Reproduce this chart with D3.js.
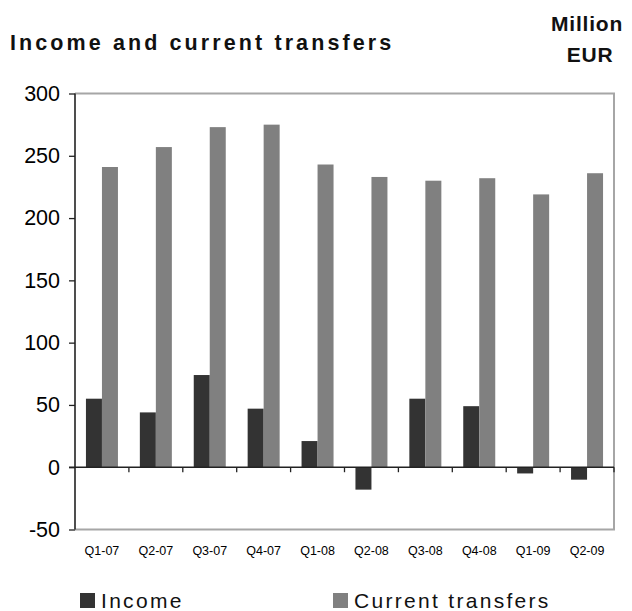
<!DOCTYPE html>
<html>
<head>
<meta charset="utf-8">
<script src="https://cdn.jsdelivr.net/npm/d3@7"></script>
<style>
  body { margin: 0; background: #fff; }
  svg { display: block; }
</style>
</head>
<body>
<svg id="chart" width="632" height="611"></svg>
<script>
// Quarterly income and current transfers, million EUR
const quarters = ["Q1-07", "Q2-07", "Q3-07", "Q4-07", "Q1-08", "Q2-08", "Q3-08", "Q4-08", "Q1-09", "Q2-09"];
const income = [55, 44, 74, 47, 21, -18, 55, 49, -5, -10];
const currentTransfers = [241, 257, 273, 275, 243, 233, 230, 232, 219, 236];
const yTicks = [-50, 0, 50, 100, 150, 200, 250, 300];
const seriesNames = ["Income", "Current transfers"];
const seriesColors = ["#333333", "#808080"];

const svg = d3.select("#chart");
const plot = { left: 75, right: 614, top: 93.5, bottom: 529.5 };

const x = d3.scaleBand().domain(quarters).range([plot.left, plot.right]);
const y = d3.scaleLinear().domain([-50, 300]).range([plot.bottom, plot.top]);
const barW = 16;
const sans = "Liberation Sans, Arial, sans-serif";

// Titles
svg.append("text")
  .attr("x", 10).attr("y", 50)
  .attr("font-family", sans)
  .attr("font-weight", "bold").attr("font-size", 21.5)
  .attr("letter-spacing", 3.1)
  .attr("fill", "#111")
  .text("Income and current transfers");

const unit = svg.append("text")
  .attr("font-family", sans)
  .attr("font-weight", "bold").attr("font-size", 21)
  .attr("text-anchor", "middle")
  .attr("letter-spacing", 0.8)
  .attr("fill", "#111");
unit.append("tspan").attr("x", 587).attr("y", 31).text("Million");
unit.append("tspan").attr("x", 590).attr("y", 62).text("EUR");

// Plot frame (top, right, bottom)
svg.append("path")
  .attr("d", `M${plot.left},${plot.top}H${plot.right}V${plot.bottom}H${plot.left}`)
  .attr("fill", "none").attr("stroke", "#a6a6a6").attr("stroke-width", 2);

// Bars
const groups = svg.append("g").selectAll("g")
  .data(quarters)
  .join("g")
  .attr("transform", d => `translate(${x(d) + x.bandwidth() / 2},0)`);

groups.append("rect")
  .attr("x", -barW)
  .attr("width", barW)
  .attr("y", (d, i) => y(Math.max(0, income[i])))
  .attr("height", (d, i) => Math.abs(y(income[i]) - y(0)))
  .attr("fill", seriesColors[0]);

groups.append("rect")
  .attr("x", 0)
  .attr("width", barW)
  .attr("y", (d, i) => y(Math.max(0, currentTransfers[i])))
  .attr("height", (d, i) => Math.abs(y(currentTransfers[i]) - y(0)))
  .attr("fill", seriesColors[1]);

// Y axis
const yAxis = svg.append("g")
  .attr("transform", `translate(${plot.left},0)`)
  .call(d3.axisLeft(y).tickValues(yTicks).tickSize(6).tickPadding(9).tickFormat(d => String(d)));
yAxis.select(".domain").attr("stroke", "#222").attr("stroke-width", 1.6)
  .attr("d", `M0,${plot.top}V${plot.bottom}`);
yAxis.selectAll(".tick line").attr("stroke", "#222").attr("stroke-width", 1.3);
yAxis.selectAll(".tick text")
  .attr("font-family", sans)
  .attr("font-size", 21.5).attr("fill", "#000");

// Zero line with category separators
const zeroAxis = svg.append("g").attr("transform", `translate(0,${y(0)})`);
zeroAxis.append("line")
  .attr("x1", plot.left - 6).attr("x2", plot.right)
  .attr("stroke", "#222").attr("stroke-width", 1.6);
zeroAxis.selectAll("line.sep")
  .data(quarters.slice(1).concat(["end"]))
  .join("line")
  .attr("class", "sep")
  .attr("x1", (d, i) => plot.left + x.step() * (i + 1))
  .attr("x2", (d, i) => plot.left + x.step() * (i + 1))
  .attr("y1", 0).attr("y2", 5)
  .attr("stroke", "#222").attr("stroke-width", 1.3);

// Category labels
const xAxis = svg.append("g")
  .attr("transform", `translate(0,${plot.bottom})`)
  .call(d3.axisBottom(x).tickSize(0).tickPadding(17));
xAxis.select(".domain").remove();
xAxis.selectAll(".tick text")
  .attr("font-family", sans)
  .attr("font-size", 12.5).attr("fill", "#000");

// Legend
const legendX = [80, 333];
const legend = svg.append("g").selectAll("g")
  .data(seriesNames)
  .join("g")
  .attr("transform", (d, i) => `translate(${legendX[i]},593)`);
legend.append("rect")
  .attr("width", 15).attr("height", 15)
  .attr("fill", (d, i) => seriesColors[i]);
legend.append("text")
  .attr("x", 21).attr("y", 15)
  .attr("font-family", sans)
  .attr("font-size", 21).attr("fill", "#111")
  .attr("letter-spacing", 2.3)
  .text(d => d);
</script>
</body>
</html>
